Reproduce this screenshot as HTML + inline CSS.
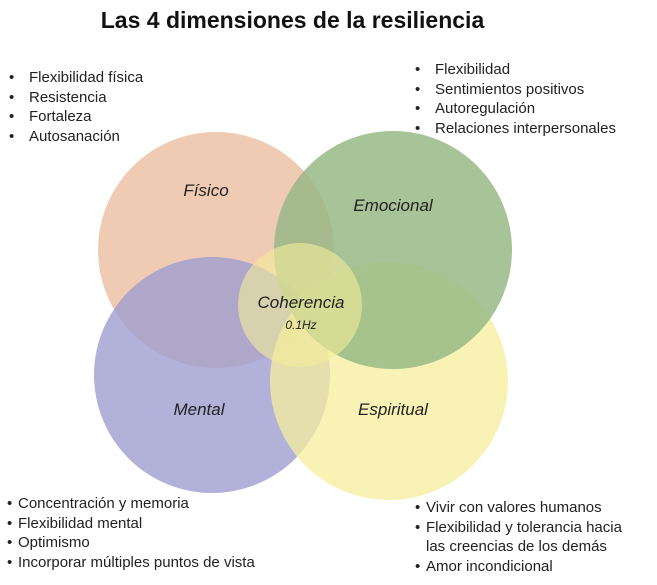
<!DOCTYPE html>
<html><head><meta charset="utf-8"><style>
body{margin:0;background:#fff;width:657px;height:585px;overflow:hidden;font-family:"Liberation Sans",sans-serif;}
.t{position:absolute;left:0;width:585px;text-align:center;top:7px;font-size:23px;font-weight:bold;color:#111;}
ul{position:absolute;margin:0;padding:0;list-style:none;font-size:15px;color:#222;line-height:19.5px;}
li::before{content:"•";display:inline-block;width:20px;}
ul.b li::before{width:11px;}
</style></head><body>
<div class="t">Las 4 dimensiones de la resiliencia</div>
<ul style="left:9px;top:68px"><li>Flexibilidad física</li><li>Resistencia</li><li>Fortaleza</li><li>Autosanación</li></ul>
<ul style="left:415px;top:60px"><li>Flexibilidad</li><li>Sentimientos positivos</li><li>Autoregulación</li><li>Relaciones interpersonales</li></ul>
<ul class="b" style="left:7px;top:494px"><li>Concentración y memoria</li><li>Flexibilidad mental</li><li>Optimismo</li><li>Incorporar múltiples puntos de vista</li></ul>
<ul class="b" style="left:415px;top:498px"><li>Vivir con valores humanos</li><li>Flexibilidad y tolerancia hacia<br><span style="padding-left:11px">las creencias de los demás</span></li><li>Amor incondicional</li></ul>
<svg width="657" height="585" style="position:absolute;left:0;top:0">
<circle cx="216" cy="250" r="118" fill="#eecbb2"/>
<circle cx="212" cy="375" r="118" fill="#9d9dd0" opacity="0.8"/>
<circle cx="389" cy="381" r="119" fill="#f5ef9c" opacity="0.75"/>
<circle cx="393" cy="250" r="119" fill="#98b986" opacity="0.85"/>
<circle cx="300" cy="305" r="62" fill="#f4ec9a" opacity="0.6"/>
<g font-family="Liberation Sans,sans-serif" font-style="italic" font-size="17" fill="#222" text-anchor="middle">
<text x="206" y="196">Físico</text>
<text x="393" y="211">Emocional</text>
<text x="199" y="415">Mental</text>
<text x="393" y="415">Espiritual</text>
<text x="301" y="308">Coherencia</text>
<text x="301" y="329" font-size="12">0.1Hz</text>
</g></svg>
</body></html>
